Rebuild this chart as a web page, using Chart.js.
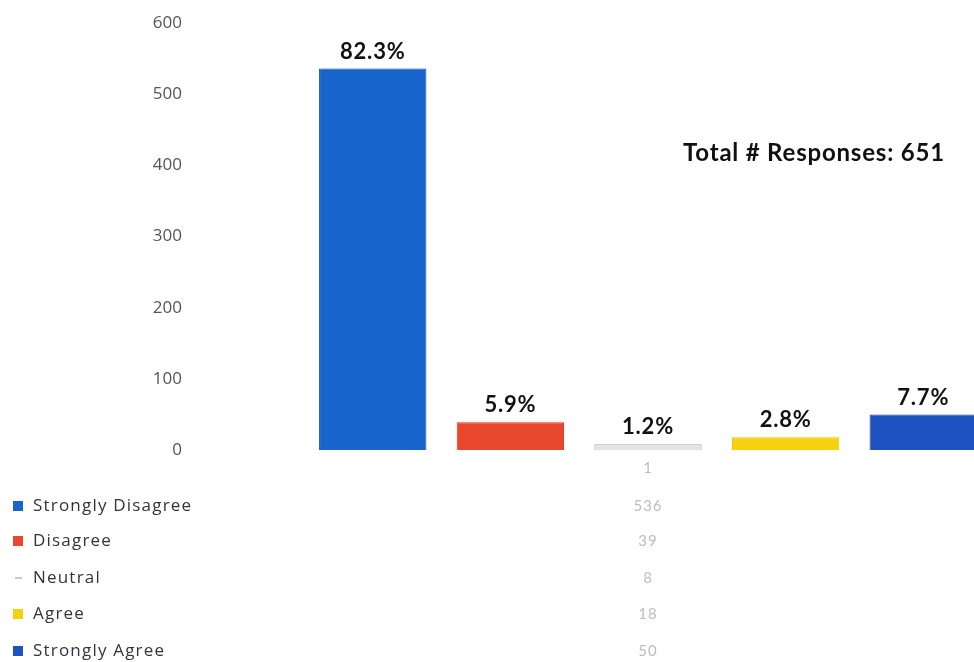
<!DOCTYPE html>
<html>
<head>
<meta charset="utf-8">
<script src="https://cdn.jsdelivr.net/npm/chart.js@4/dist/chart.umd.min.js"></script>
<style>
  html, body { margin: 0; padding: 0; background: #fff; overflow: hidden; }
  #wrap { position: relative; width: 1096px; height: 662px; }
</style>
</head>
<body>
<div id="wrap"><canvas id="chart"></canvas></div>
<script>
// data
const categories = ["1"];
const seriesNames = ["Strongly Disagree", "Disagree", "Neutral", "Agree", "Strongly Agree"];
const counts = [536, 39, 8, 18, 50];
const percentLabels = ["82.3%", "5.9%", "1.2%", "2.8%", "7.7%"];
const totalResponses = 651;
const yMin = 0, yMax = 600, yStep = 100;

const fills = ["#1664cc", "#e9472c", "#e4e4e4", "#f6d10e", "#1e52c0"];
const borders = ["#0d4a9e", "#d8381f", "#a9a9a9", "#e8c000", "#143f9a"];

// percent labels over bars, the total text, and the data table underneath
const extras = {
  id: "extras",
  afterDatasetsDraw(chart) {
    const ctx = chart.ctx;
    ctx.save();
    ctx.fillStyle = "#111";
    ctx.font = "bold 22px Lato, 'Open Sans', sans-serif";
    ctx.letterSpacing = "0.8px";
    ctx.textAlign = "center";
    ctx.textBaseline = "middle";
    chart.data.datasets.forEach((ds, i) => {
      const bar = chart.getDatasetMeta(i).data[0];
      ctx.fillText(percentLabels[i], bar.x, bar.y - 17);
    });

    ctx.font = "bold 24px Lato, 'Open Sans', sans-serif";
    ctx.letterSpacing = "0.8px";
    ctx.textAlign = "left";
    ctx.fillText("Total # Responses: " + totalResponses, 683, 153);

    // data table
    const xCenter = chart.scales.x.getPixelForValue(0);
    const rowY = [506, 541, 578, 614, 651];
    ctx.letterSpacing = "1px";
    ctx.font = "15px Lato, sans-serif";
    ctx.fillStyle = "#bdbdbd";
    ctx.textAlign = "center";
    ctx.fillText(categories[0], xCenter, 468);
    seriesNames.forEach((name, i) => {
      ctx.fillStyle = "#bdbdbd";
      ctx.font = "15px Lato, sans-serif";
      ctx.letterSpacing = "1px";
      ctx.textAlign = "center";
      ctx.fillText(String(counts[i]), xCenter, rowY[i]);

      ctx.fillStyle = i === 2 ? "#c8c8c8" : fills[i];
      if (i === 2) ctx.fillRect(15, rowY[i] - 1, 7, 2);
      else ctx.fillRect(13, rowY[i] - 5, 10, 10);

      ctx.fillStyle = "#33333f";
      ctx.font = "17px 'Open Sans', Lato, sans-serif";
      ctx.letterSpacing = "1.2px";
      ctx.textAlign = "left";
      ctx.fillText(name, 33, rowY[i]);
    });
    ctx.restore();
  }
};

new Chart(document.getElementById("chart"), {
  type: "bar",
  data: {
    labels: categories,
    datasets: seriesNames.map((name, i) => ({
      label: name,
      data: [counts[i]],
      backgroundColor: fills[i],
      borderColor: borders[i],
      borderWidth: 1,
      categoryPercentage: 0.768,
      barPercentage: 0.78,
    })),
  },
  options: {
    responsive: true,
    maintainAspectRatio: false,
    animation: false,
    layout: { padding: { top: 23, bottom: 212, left: 0, right: 0 } },
    plugins: {
      legend: { display: false },
      tooltip: { enabled: false },
    },
    scales: {
      x: { display: false },
      y: {
        min: yMin,
        max: yMax,
        ticks: {
          stepSize: yStep,
          padding: 18,
          color: "#555",
          font: { family: "'Open Sans', Lato, sans-serif", size: 17 },
        },
        grid: { display: false, drawTicks: false },
        border: { display: false },
        afterFit(scale) {
          scale.width = 200;
          scale.paddingTop = 0;
          scale.paddingBottom = 0;
        },
      },
    },
  },
  plugins: [extras],
});
</script>
</body>
</html>
